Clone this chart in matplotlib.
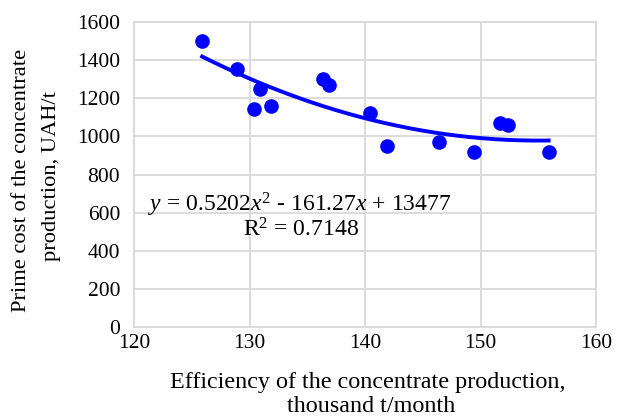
import numpy as np
import matplotlib
matplotlib.use("Agg")
import matplotlib.pyplot as plt

plt.rcParams['font.family'] = ['Liberation Serif', 'DejaVu Serif']
plt.rcParams['mathtext.fontset'] = 'custom'
plt.rcParams['mathtext.rm'] = 'Liberation Serif'
plt.rcParams['mathtext.it'] = 'Liberation Serif:italic'

# data
efficiency = [125.9, 128.9, 130.4, 130.9, 131.9, 136.4, 136.9, 140.4, 141.9,
              146.4, 149.4, 151.7, 152.4, 155.9]
prime_cost = [1502, 1352, 1142, 1250, 1161, 1303, 1270, 1121, 951,
              969, 920, 1072, 1060, 920]
# trendline coefficients as printed on the chart
coef = [0.5202, -161.27, 13477]
r2 = 0.7148

BLUE = '#0000ff'
GRID = '#d9d9d9'
W, H = 627, 416

fig = plt.figure(figsize=(W/100, H/100), dpi=100)
ax = fig.add_axes([134/W, 1 - 327/H, (596-134)/W, (327-22)/H])

ax.plot(efficiency, prime_cost, 'o', color=BLUE, markersize=9.5, zorder=3)

xt = np.linspace(min(efficiency), max(efficiency), 200)
ax.plot(xt, np.polyval(coef, xt), color=BLUE, lw=2.8, zorder=2)

ax.set_xlim(120, 160)
ax.set_ylim(0, 1600)
ax.set_xticks(np.arange(120, 161, 10))
ax.set_yticks(np.arange(0, 1601, 200))
ax.grid(True, color=GRID, lw=1.3)
ax.set_axisbelow(True)
for s in ax.spines.values():
    s.set_color(GRID)
    s.set_linewidth(1.3)
ax.tick_params(axis='y', length=0, labelsize=15.5, pad=10)
ax.tick_params(axis='x', length=0, labelsize=15.5, pad=5)

# axis titles, one text per line
fig.text(368/W, 1 - 388/H, "Efficiency of the concentrate production,",
         fontsize=17.4, ha='center', va='baseline')
fig.text(371/W, 1 - 412/H, "thousand t/month",
         fontsize=17.4, ha='center', va='baseline')
fig.text(22/W, 1 - 180/H, "Prime cost of the concentrate",
         fontsize=16.2, ha='center', va='center', rotation=90)
fig.text(52/W, 1 - 176/H, "production, UAH/t",
         fontsize=16.2, ha='center', va='center', rotation=90)

eq = r"$y$ = 0.5202$x^2$ - 161.27$x$ + 13477"
ax.text(134.35, 640, eq, fontsize=17, ha='center', va='center')
ax.text(134.45, 509, r"R$^2$ = " + str(r2), fontsize=17, ha='center', va='center')

fig.savefig("out.png", dpi=100)
